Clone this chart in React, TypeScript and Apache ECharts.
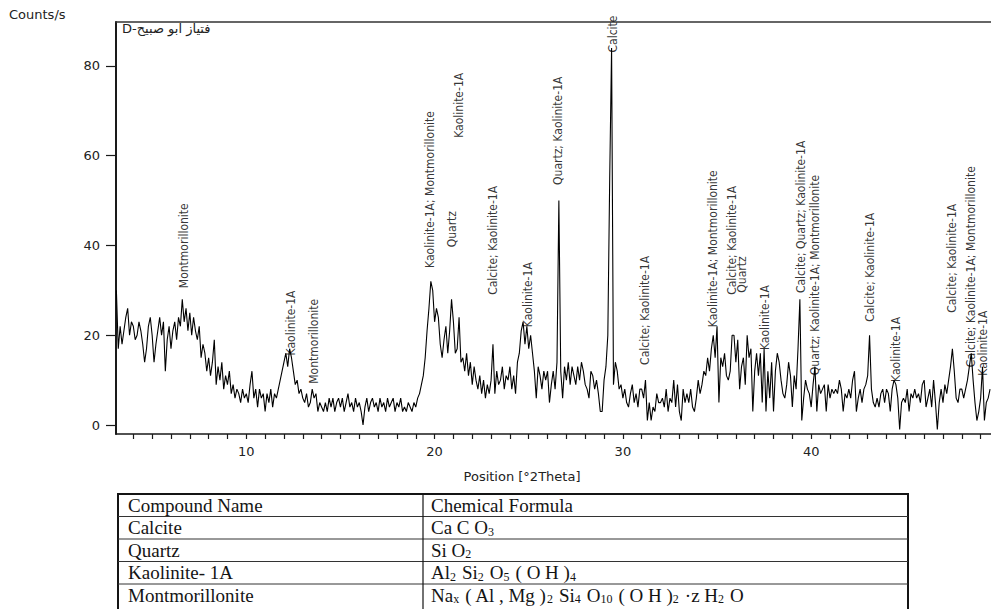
import { useEffect, useRef } from "react";
import * as echarts from "echarts";

// ---- measurement grid (°2Theta) ----
const STEP = 0.1;

// intensity (Counts/s), one row per degree
const START_A = 3.1;
const intensityA = [
  30, 17, 22, 18, 21, 24, 26, 20, 23,
  22, 19, 20, 23, 21, 18, 14, 17, 22, 24,
  20, 14, 18, 21, 24, 20, 23, 12, 19, 22,
  17, 21, 23, 19, 24, 22, 28, 23, 26, 21,
  25, 20, 24, 21, 19, 22, 15, 18, 16, 12,
  15, 11, 14, 19, 9, 13, 10, 14, 8, 11,
  9, 12, 7, 9, 6, 8, 7, 5, 8, 6,
];
const START_B = 10;
const intensityB = [
  7, 5, 9, 12, 6, 8, 4, 8, 6, 7,
  3, 7, 5, 8, 4, 7, 6, 8, 10, 12,
  14, 16, 13, 17, 15, 12, 9, 10, 7, 8,
  6, 5, 7, 4, 5, 8, 6, 7, 3, 5,
  4, 3, 5, 3, 6, 4, 6, 3, 5, 6,
  4, 6, 3, 5, 7, 4, 5, 3, 6, 4,
  5, 3, 0, 4, 6, 3, 5, 6, 4, 5,
  3, 6, 4, 5, 3, 6, 4, 5, 6, 3,
  5, 4, 6, 3, 4, 3, 5, 4, 3, 5,
  4, 6, 7, 9, 11, 15, 21, 26, 32, 30,
];
const START_C = 20;
const intensityC = [
  23, 26, 24, 18, 15, 19, 22, 16, 21, 28,
  23, 16, 17, 24, 14, 15, 12, 16, 11, 14,
  9, 13, 10, 8, 11, 7, 10, 6, 9, 7,
  10, 18, 7, 12, 9, 10, 13, 8, 11, 10,
  13, 8, 11, 7, 14, 16, 21, 23, 18, 22,
  17, 20, 16, 12, 6, 13, 11, 8, 12, 10,
  12, 5, 9, 12, 8, 14, 50, 12, 6, 13,
  10, 14, 9, 13, 11, 9, 13, 10, 14, 12,
  9, 8, 6, 12, 11, 8, 10, 7, 3, 3,
  10, 13, 20, 55, 84, 9, 14, 12, 8, 9,
];
const START_D = 30;
const intensityD = [
  6, 8, 5, 4, 7, 9, 5, 7, 4, 8,
  8, 6, 10, 1, 5, 1, 4, 3, 7, 5,
  5, 6, 4, 8, 3, 6, 5, 10, 4, 9,
  3, 1, 8, 5, 7, 5, 8, 4, 3, 6,
  10, 7, 9, 12, 11, 15, 12, 17, 20, 15,
  22, 5, 15, 13, 16, 11, 10, 12, 20, 20,
  14, 19, 8, 13, 15, 9, 20, 15, 17, 3,
  12, 16, 11, 16, 5, 17, 3, 12, 6, 14,
  3, 12, 16, 14, 10, 7, 6, 9, 14, 11,
  4, 11, 8, 17, 28, 1, 6, 10, 8, 7,
];
const START_E = 40;
const intensityE = [
  4, 9, 13, 3, 9, 7, 8, 9, 3, 9,
  6, 8, 7, 8, 7, 10, 8, 3, 7, 6,
  8, 6, 10, 12, 3, 6, 8, 5, 8, 9,
  11, 20, 8, 5, 4, 6, 4, 7, 8, 5,
  8, 7, 3, 8, 10, 9, 6, -1, 5, 6,
  5, 8, 3, 7, 6, 8, 6, 7, 5, 9,
  10, 4, 6, 8, 4, 10, 5, -1, 5, 8,
  5, 9, 7, 10, 13, 17, 12, 6, 5, 8,
  8, 6, 8, 10, 13, 16, 10, 5, 1, 3,
  6, 13, 1, 5, 6, 8,
];

// axes
const X_MIN = 3.08;
const X_MAX = 49.55;
const Y_MIN = -2;
const Y_MAX = 89.8;
const yTickValues = [0, 20, 40, 60, 80];
const xLabelValues = [10, 20, 30, 40];
const xTickValues = [
  4, 5, 6, 7, 8, 9, 10, 11, 12, 13, 14, 15, 16, 17, 18, 19, 20, 21, 22, 23, 24, 25, 26,
  27, 28, 29, 30, 31, 32, 33, 34, 35, 36, 37, 38, 39, 40, 41, 42, 43, 44, 45, 46, 47, 48, 49,
];

// phase annotations: [°2Theta, intensity at text start, text]
const peakLabels: [number, number, string][] = [
  [6.7, 30.5, "Montmorillonite"],
  [12.35, 15.5, "Kaolinite-1A"],
  [13.6, 9.2, "Montmorillonite"],
  [19.75, 35, "Kaolinite-1A; Montmorillonite"],
  [20.9, 39.6, "Quartz"],
  [21.3, 64, "Kaolinite-1A"],
  [23.1, 29, "Calcite; Kaolinite-1A"],
  [24.95, 21.8, "Kaolinite-1A"],
  [26.55, 53.5, "Quartz; Kaolinite-1A"],
  [29.45, 83, "Calcite"],
  [31.15, 13.4, "Calcite; Kaolinite-1A"],
  [34.8, 21.8, "Kaolinite-1A; Montmorillonite"],
  [35.8, 29, "Calcite; Kaolinite-1A"],
  [36.3, 29.5, "Quartz"],
  [37.55, 16.7, "Kaolinite-1A"],
  [39.45, 29.4, "Calcite; Quartz; Kaolinite-1A"],
  [40.2, 11.1, "Quartz; Kaolinite-1A; Montmorillonite"],
  [43.15, 23, "Calcite; Kaolinite-1A"],
  [44.5, 9.6, "Kaolinite-1A"],
  [47.5, 25, "Calcite; Kaolinite-1A"],
  [48.47, 12.9, "Calcite; Kaolinite-1A; Montmorillonite"],
  [49.15, 11, "Kaolinite-1A"],
];

const sampleTitle = "D-فتياز ابو صبيح";
const yAxisName = "Counts/s";
const xAxisName = "Position [°2Theta]";

// table
const tableHeader = ["Compound Name", "Chemical Formula"];
const compoundNames = ["Calcite", "Quartz", "Kaolinite- 1A", "Montmorillonite"];
// [text, kind]: 0 = normal, 1 = subscript (followed by a gap)
const compoundFormulas: [string, number][][] = [
  [["Ca C O", 0], ["3", 1]],
  [["Si O", 0], ["2", 1]],
  [["Al", 0], ["2", 1], ["Si", 0], ["2", 1], ["O", 0], ["5", 1], ["( O H )", 0], ["4", 1]],
  [
    ["Na", 0], ["x", 1], ["( Al , Mg )", 0], ["2", 1], ["Si", 0], ["4", 1], ["O", 0], ["10", 1],
    ["( O H )", 0], ["2", 1], ["·z H", 0], ["2", 1], ["O", 0],
  ],
];

const SANS = "DejaVu Sans, Verdana, sans-serif";
const NARROW = "DejaVu Sans Condensed, Liberation Sans Narrow, sans-serif";
const SERIF = "Liberation Serif, Times New Roman, serif";

function buildSeg(start: number, arr: number[]) {
  return arr.map((v, i) => [Math.round((start + i * STEP) * 100) / 100, v]);
}

export default function App() {
  const ref = useRef<HTMLDivElement>(null);

  useEffect(() => {
    if (!ref.current) return;
    const chart = echarts.init(ref.current, undefined, { renderer: "svg" });

    const spectrum = [
      ...buildSeg(START_A, intensityA),
      ...buildSeg(START_B, intensityB),
      ...buildSeg(START_C, intensityC),
      ...buildSeg(START_D, intensityD),
      ...buildSeg(START_E, intensityE),
    ];

    const TBL_L = 118;
    const TBL_R = 908;
    const TBL_DIV = 423;
    const TBL_T = 494;
    const ROW_H = 22.5;
    const INK = "#141414";

    const rich = {
      n: { fontFamily: SERIF, fontSize: 19, lineHeight: 20, fill: INK },
      s: { fontFamily: SERIF, fontSize: 12, lineHeight: 12, verticalAlign: "bottom", fill: INK },
      g: { fontFamily: SERIF, fontSize: 12, lineHeight: 12, width: 6, fill: INK },
    };

    const graphics: any[] = [];
    // table frame (bottom edge lies below the picture, as in the scan)
    graphics.push({
      type: "rect",
      shape: { x: TBL_L, y: TBL_T, width: TBL_R - TBL_L, height: ROW_H * 5 + 8 },
      style: { fill: "none", stroke: INK, lineWidth: 2 },
      silent: true,
    });
    for (let r = 1; r < 5; r++) {
      graphics.push({
        type: "line",
        shape: { x1: TBL_L, y1: TBL_T + r * ROW_H, x2: TBL_R, y2: TBL_T + r * ROW_H },
        style: { stroke: "#333", lineWidth: 1 },
        silent: true,
      });
    }
    graphics.push({
      type: "line",
      shape: { x1: TBL_DIV, y1: TBL_T, x2: TBL_DIV, y2: TBL_T + ROW_H * 5 + 8 },
      style: { stroke: INK, lineWidth: 1.2 },
      silent: true,
    });
    const rowCenter = (r: number) => TBL_T + r * ROW_H + ROW_H / 2;
    const cellText = (x: number, y: number, text: string) => ({
      type: "text",
      x,
      y,
      silent: true,
      style: {
        text,
        rich,
        fill: INK,
        font: `19px ${SERIF}`,
        align: "left",
        verticalAlign: "middle",
        textAlign: "left",
        textVerticalAlign: "middle",
      },
    });
    graphics.push(cellText(TBL_L + 10, rowCenter(0), `{n|${tableHeader[0]}}`));
    graphics.push(cellText(TBL_DIV + 8, rowCenter(0), `{n|${tableHeader[1]}}`));
    compoundNames.forEach((name, i) => {
      graphics.push(cellText(TBL_L + 10, rowCenter(i + 1), `{n|${name}}`));
      const parts = compoundFormulas[i];
      const str = parts
        .map(([t, s], k) => (s ? `{s|${t}}` + (k < parts.length - 1 ? "{g| }" : "") : `{n|${t}}`))
        .join("");
      graphics.push(cellText(TBL_DIV + 8, rowCenter(i + 1), str));
    });

    // axis names and sample title
    graphics.push({
      type: "text",
      x: 9,
      y: 14,
      silent: true,
      style: { text: yAxisName, fill: "#222", font: `13px ${SANS}`, align: "left", verticalAlign: "middle", textAlign: "left", textVerticalAlign: "middle" },
    });
    graphics.push({
      type: "text",
      x: 522,
      y: 476,
      silent: true,
      style: { text: xAxisName, fill: "#222", font: `13px ${SANS}`, align: "center", verticalAlign: "middle", textAlign: "center", textVerticalAlign: "middle" },
    });
    graphics.push({
      type: "text",
      x: 122,
      y: 28,
      silent: true,
      style: { text: sampleTitle, fill: "#222", font: `13px ${SANS}`, align: "left", verticalAlign: "middle", textAlign: "left", textVerticalAlign: "middle" },
    });

    const axisColor = "#1a1a1a";

    chart.setOption({
      animation: false,
      backgroundColor: "#ffffff",
      grid: { left: 116, top: 22, width: 875, height: 412, containLabel: false },
      xAxis: [
        {
          type: "value",
          min: X_MIN,
          max: X_MAX,
          position: "bottom",
          axisLine: { show: true, onZero: false, lineStyle: { color: axisColor, width: 1.5 } },
          axisTick: { show: true, customValues: xTickValues, length: 5, lineStyle: { color: axisColor, width: 1.2 } },
          axisLabel: { show: true, customValues: xLabelValues, margin: 11, fontFamily: SANS, fontSize: 13, color: "#222" },
          splitLine: { show: false },
        },
        {
          type: "value",
          min: X_MIN,
          max: X_MAX,
          position: "top",
          axisLine: { show: true, onZero: false, lineStyle: { color: "#333", width: 1.5 } },
          axisTick: { show: false },
          axisLabel: { show: false },
          splitLine: { show: false },
        },
      ],
      yAxis: {
        type: "value",
        min: Y_MIN,
        max: Y_MAX,
        axisLine: { show: true, onZero: false, lineStyle: { color: axisColor, width: 2 } },
        axisTick: { show: true, customValues: yTickValues, length: 10, lineStyle: { color: axisColor, width: 1.2 } },
        axisLabel: { show: true, customValues: yTickValues, margin: 16, fontFamily: SANS, fontSize: 13, color: "#222" },
        splitLine: { show: false },
      },
      series: [
        {
          type: "line",
          data: spectrum,
          xAxisIndex: 0,
          yAxisIndex: 0,
          showSymbol: false,
          symbol: "none",
          silent: true,
          lineStyle: { color: "#000", width: 1.1 },
          z: 2,
        },
        {
          type: "scatter",
          data: peakLabels.map(([x, y, t]) => [x, y, t]),
          xAxisIndex: 0,
          yAxisIndex: 0,
          encode: { x: 0, y: 1 },
          symbolSize: 0,
          silent: true,
          clip: false,
          z: 3,
          label: {
            show: true,
            position: "top",
            distance: 0,
            rotate: 90,
            align: "left",
            verticalAlign: "middle",
            formatter: (p: any) => p.data[2],
            fontFamily: NARROW,
            fontSize: 12,
            color: "#000",
          },
          emphasis: { disabled: true },
        },
      ],
      graphic: graphics,
    });

    return () => {
      chart.dispose();
    };
  }, []);

  return (
    <div
      ref={ref}
      style={{ position: "absolute", left: 0, top: 0, width: 991, height: 609, background: "#fff" }}
    />
  );
}
